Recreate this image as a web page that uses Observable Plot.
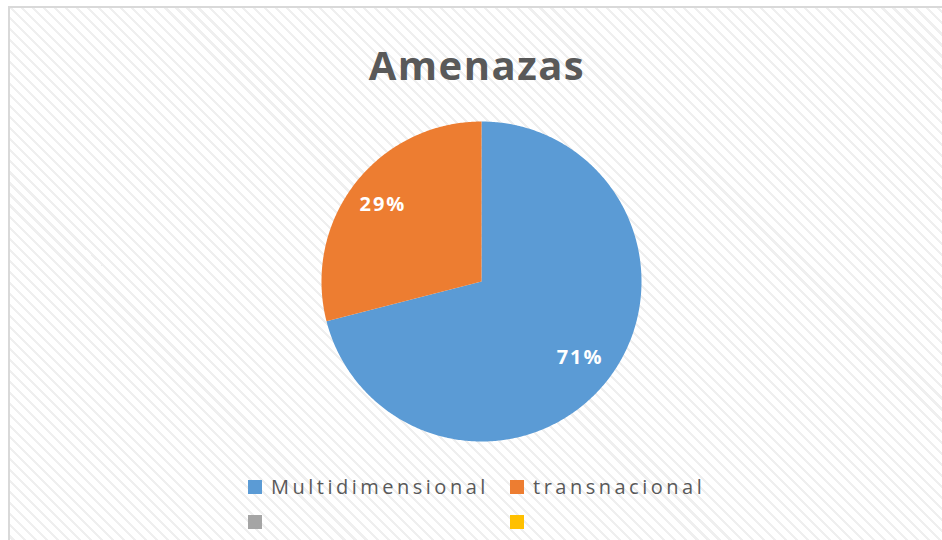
<!DOCTYPE html>
<html>
<head>
<meta charset="utf-8">
<script src="https://cdn.jsdelivr.net/npm/d3@7"></script>
<script src="https://cdn.jsdelivr.net/npm/@observablehq/plot@0.6"></script>
<style>
  html, body { margin: 0; padding: 0; background: #fff; width: 942px; height: 540px; overflow: hidden; }
  #frame {
    position: absolute; left: 8px; top: 6px; width: 960px; height: 560px;
    border-left: 2px solid #d9d9d9; border-top: 2px solid #d9d9d9;
    background: repeating-linear-gradient(45deg, #ffffff 0px, #ffffff 5.6px, #efefef 5.6px, #efefef 7.8px);
  }
  #title {
    position: absolute; left: 0; width: 954px; top: 37px; text-align: center;
    font-family: "Open Sans", sans-serif; font-weight: 700; font-size: 40px; letter-spacing: 1.5px;
    color: #595959;
  }
  #chart { position: absolute; left: 316px; top: 116px; }
  #chart text { letter-spacing: 2px; }
  .leg { position: absolute; font-family: "Open Sans", sans-serif; font-size: 20px; letter-spacing: 3.5px; color: #595959; white-space: nowrap; line-height: 20px; }
  .sw { position: absolute; width: 14px; height: 14px; }
</style>
</head>
<body>
<div id="frame"></div>
<div id="title">Amenazas</div>
<div id="chart"></div>
<div id="legend"></div>
<script>
const categories = ["Multidimensional", "transnacional"];
const values = [71, 29];
const labels = ["71%", "29%"];
const colors = ["#5B9BD5", "#ED7D31"];
const legendLabels = ["Multidimensional", "transnacional", "", ""];
const legendColors = ["#5B9BD5", "#ED7D31", "#A5A5A5", "#FFC000"];

// compute slice angles (clockwise from 12 o'clock)
const arcs = d3.pie().sort(null).value(d => d)(values);
const pts = [];
const labelPts = [];
arcs.forEach((a, i) => {
  const cat = categories[i];
  pts.push({cat, x: 0, y: 0});
  const n = Math.max(2, Math.ceil((a.endAngle - a.startAngle) / 0.01));
  for (let k = 0; k <= n; k++) {
    const t = a.startAngle + (a.endAngle - a.startAngle) * k / n;
    pts.push({cat, x: Math.sin(t), y: Math.cos(t)});
  }
  pts.push({cat, x: 0, y: 0});
  const m = (a.startAngle + a.endAngle) / 2;
  labelPts.push({cat, label: labels[i], x: 0.78 * Math.sin(m), y: 0.78 * Math.cos(m)});
});

const chart = Plot.plot({
  width: 330, height: 330,
  margin: 5,
  x: {domain: [-1, 1], axis: null},
  y: {domain: [-1, 1], axis: null},
  color: {domain: categories, range: colors},
  style: {background: "transparent", overflow: "visible"},
  marks: [
    Plot.line(pts, {x: "x", y: "y", z: "cat", fill: "cat", stroke: "none", curve: "linear"}),
    Plot.text(labelPts, {x: "x", y: "y", text: "label", fill: "white", fontSize: 20, fontWeight: "bold",
      fontFamily: "Open Sans, sans-serif"})
  ]
});
document.getElementById("chart").appendChild(chart);

// legend
const leg = document.getElementById("legend");
const pos = [[248, 480], [510, 480], [248, 515], [510, 515]];
legendLabels.forEach((t, i) => {
  const sw = document.createElement("div");
  sw.className = "sw";
  sw.style.left = pos[i][0] + "px";
  sw.style.top = pos[i][1] + "px";
  sw.style.background = legendColors[i];
  leg.appendChild(sw);
  const tx = document.createElement("div");
  tx.className = "leg";
  tx.style.left = (pos[i][0] + 23) + "px";
  tx.style.top = (pos[i][1] - 3) + "px";
  tx.textContent = t;
  leg.appendChild(tx);
});
</script>
</body>
</html>
